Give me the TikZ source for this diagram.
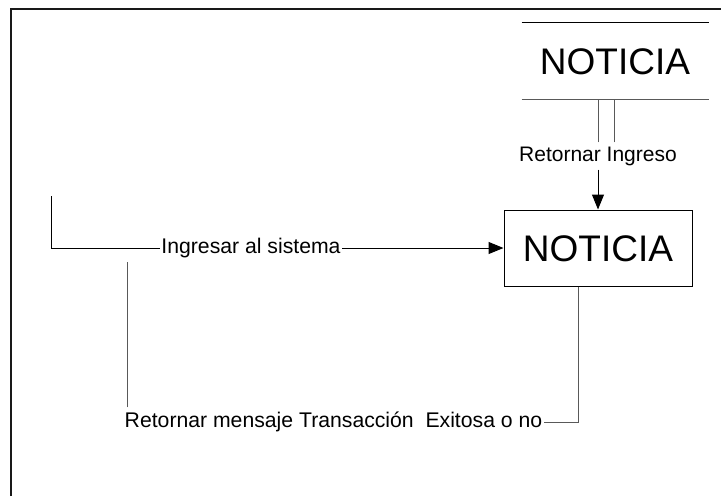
\documentclass[tikz,border=0pt]{standalone}
\usepackage{fontspec}
\setmainfont{Liberation Sans}
\usetikzlibrary{arrows.meta}
\begin{document}
\begin{tikzpicture}[x=1pt,y=-1pt,
  line width=1pt,
  flow/.style={draw=black},
  grayflow/.style={draw=black!65},
  arrowflow/.style={draw=black,-{Triangle[length=15pt,width=12pt]}},
  bigtext/.style={font=\fontsize{37}{40}\selectfont,text height=27.5pt,text depth=0pt,inner sep=0pt},
  label/.style={font=\fontsize{21.2}{24}\selectfont,text height=15.8pt,text depth=4.5pt,inner xsep=1pt,inner ysep=4pt}
]
\useasboundingbox (0,0) rectangle (721,496);
% page frame
\draw[line width=2pt,black!90] (11,496) -- (11,9) -- (721,9);

% data store
\node[bigtext,minimum width=186pt,minimum height=76pt] (store) at (615,61) {NOTICIA};
\draw[flow] (store.north west) -- (store.north east);
\draw[grayflow] (store.south west) -- (store.south east);

% process box
\node[bigtext,draw,minimum width=188pt,minimum height=76pt] (box) at (598,248) {NOTICIA};

% flow labels
\node[label,font=\fontsize{21}{24}\selectfont,inner ysep=3pt] (lblIn) at (598,156) {Retornar Ingreso};
\node[label] (lblSys) at (251,248) {Ingresar al sistema};
\node[label] (lblRet) at (333.5,422) {Retornar mensaje Transacción\ \ Exitosa o no};

\coordinate (src) at (51,196);
\coordinate (ret) at (127,262);

% store -> process
\draw[grayflow] (lblIn.north) -- (lblIn.north |- store.south);
\draw[grayflow] ([xshift=16pt]lblIn.north) -- ([xshift=16pt]lblIn.north |- store.south);
\draw[arrowflow] (lblIn.south) -- (box.north);

% external entry -> process
\draw[flow] (src) |- (lblSys.west);
\draw[arrowflow] (lblSys.east) -- (box.west);

% process -> result message
\draw[grayflow] ([xshift=-20pt]box.south) |- (lblRet.east);
\draw[grayflow] (lblRet.north -| ret) -- (ret);
\end{tikzpicture}
\end{document}
